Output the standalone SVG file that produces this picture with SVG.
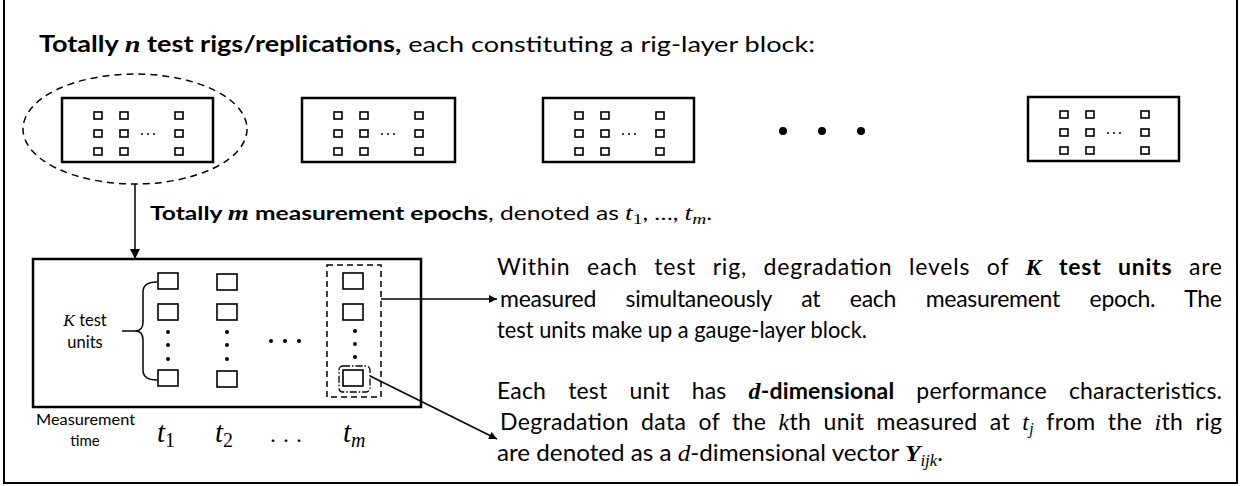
<svg xmlns="http://www.w3.org/2000/svg" width="1243" height="486" viewBox="0 0 1243 486">
<style>
  .frame{fill:none;stroke:#000;stroke-width:2}
  .rig{fill:#fff;stroke:#000;stroke-width:2.5}
  .sq{fill:#fff;stroke:#000;stroke-width:1.6}
  .gsq{fill:#fff;stroke:#000;stroke-width:1.6}
  .dash{fill:none;stroke:#000;stroke-width:1.5;stroke-dasharray:7 5}
  .dashr{fill:none;stroke:#000;stroke-width:1.5;stroke-dasharray:6 4}
  .dashdot{fill:none;stroke:#000;stroke-width:1.3;stroke-dasharray:7 2 1.5 2}
  .line{fill:none;stroke:#000;stroke-width:1.5}
  .txt{font-family:Lato,"Liberation Sans",sans-serif;fill:#000}
  .b{font-weight:bold}
  .mi{font-family:"Liberation Serif",serif;font-style:italic}
  .mbi{font-family:"Liberation Serif",serif;font-style:italic;font-weight:bold}
  .mr{font-family:"Liberation Serif",serif}
  .dot{fill:#000}
  .body{font-size:23px}
</style>
<defs>
  <marker id="ah" viewBox="0 0 10 10" refX="10" refY="5" markerWidth="10" markerHeight="10" markerUnits="userSpaceOnUse" orient="auto">
    <path d="M0,0 L10,5 L0,10 Z" fill="#000"/>
  </marker>
  <marker id="ahs" viewBox="0 0 10 10" refX="10" refY="5" markerWidth="8" markerHeight="8" markerUnits="userSpaceOnUse" orient="auto">
    <path d="M0,0 L10,5 L0,10 Z" fill="#000"/>
  </marker>
  <g id="smallgrid">
    <rect class="sq" x="32" y="14" width="8" height="7"/>
    <rect class="sq" x="58" y="14" width="8" height="7"/>
    <rect class="sq" x="113" y="14" width="8" height="7"/>
    <rect class="sq" x="32" y="32" width="8" height="7"/>
    <rect class="sq" x="58" y="32" width="8" height="7"/>
    <rect class="sq" x="113" y="32" width="8" height="7"/>
    <rect class="sq" x="32" y="50" width="8" height="7"/>
    <rect class="sq" x="58" y="50" width="8" height="7"/>
    <rect class="sq" x="113" y="50" width="8" height="7"/>
    <circle class="dot" cx="80" cy="36" r="1"/>
    <circle class="dot" cx="86" cy="36" r="1"/>
    <circle class="dot" cx="92" cy="36" r="1"/>
  </g>
</defs>

<rect class="frame" x="4" y="-3" width="1233" height="486"/>

<g id="title">
  <text class="txt" x="39" y="52" font-size="22" textLength="776" lengthAdjust="spacingAndGlyphs"><tspan class="b">Totally </tspan><tspan class="mbi" font-size="23">n</tspan><tspan class="b"> test rigs/replications,</tspan> each constituting a rig-layer block:</text>
</g>

<g id="rig1">
  <ellipse class="dash" cx="135" cy="129" rx="112" ry="55"/>
  <rect class="rig" x="62" y="98" width="151" height="64"/>
  <use href="#smallgrid" x="62" y="98"/>
</g>
<g id="rig2">
  <rect class="rig" x="302" y="98" width="153" height="64"/>
  <use href="#smallgrid" x="302" y="98"/>
</g>
<g id="rig3">
  <rect class="rig" x="543" y="98" width="151" height="64"/>
  <use href="#smallgrid" x="543" y="98"/>
</g>
<g id="rigdots">
  <circle class="dot" cx="783" cy="131" r="4"/>
  <circle class="dot" cx="822" cy="131" r="4"/>
  <circle class="dot" cx="861" cy="131" r="4"/>
</g>
<g id="rign">
  <rect class="rig" x="1028" y="97" width="151" height="64"/>
  <use href="#smallgrid" x="1028" y="97"/>
</g>

<g id="epochs-label">
  <text class="txt" x="150" y="220" font-size="19" textLength="562" lengthAdjust="spacingAndGlyphs"><tspan class="b">Totally </tspan><tspan class="mbi" font-size="21">m</tspan><tspan class="b"> measurement epochs</tspan>, denoted as <tspan class="mi" font-size="21">t</tspan><tspan class="mr" font-size="15" dy="4">1</tspan><tspan dy="-4">, …, </tspan><tspan class="mi" font-size="21">t</tspan><tspan class="mi" font-size="15" dy="4">m</tspan><tspan dy="-4">.</tspan></text>
</g>

<g id="gauge-block">
  <rect class="rig" x="33" y="259" width="388" height="148"/>
  <rect class="gsq" x="158" y="273" width="20" height="16"/>
  <rect class="gsq" x="158" y="304" width="20" height="16"/>
  <circle class="dot" cx="168" cy="332" r="2"/>
  <circle class="dot" cx="168" cy="345" r="2"/>
  <circle class="dot" cx="168" cy="359" r="2"/>
  <rect class="gsq" x="158" y="370" width="20" height="16"/>
  <rect class="gsq" x="217" y="274" width="20" height="16"/>
  <rect class="gsq" x="217" y="304" width="20" height="16"/>
  <circle class="dot" cx="227" cy="332" r="2"/>
  <circle class="dot" cx="227" cy="345" r="2"/>
  <circle class="dot" cx="227" cy="359" r="2"/>
  <rect class="gsq" x="217" y="371" width="20" height="16"/>
  <circle class="dot" cx="271" cy="341" r="2"/>
  <circle class="dot" cx="285" cy="341" r="2"/>
  <circle class="dot" cx="299" cy="341" r="2"/>
  <rect class="dashr" x="327" y="265" width="54" height="132"/>
  <rect class="gsq" x="343" y="273" width="20" height="16"/>
  <rect class="gsq" x="343" y="304" width="20" height="16"/>
  <circle class="dot" cx="355" cy="331" r="2"/>
  <circle class="dot" cx="355" cy="344" r="2"/>
  <circle class="dot" cx="355" cy="357" r="2"/>
  <rect class="gsq" x="343" y="370" width="20" height="16"/>
  <rect class="dashdot" x="339" y="366" width="31" height="26" rx="4"/>
  <path class="line" d="M157,282 Q143,282 143,292 L143,322 Q143,331 135,331 L122,331 M135,331 Q143,331 143,340 L143,370 Q143,380 157,380"/>
  <text class="txt" x="85" y="326" font-size="16.5" text-anchor="middle"><tspan class="mi" font-size="17.5">K</tspan> test</text>
  <text class="txt" x="85" y="348" font-size="16.5" text-anchor="middle">units</text>
</g>

<g id="time-axis">
  <text class="txt" x="36" y="425" font-size="15" textLength="99" lengthAdjust="spacingAndGlyphs">Measurement</text>
  <text class="txt" x="85" y="446" font-size="15" text-anchor="middle">time</text>
  <text class="mi" x="157" y="442" font-size="29">t<tspan class="mr" font-style="normal" font-size="20" dy="5">1</tspan></text>
  <text class="mi" x="215" y="442" font-size="29">t<tspan class="mr" font-style="normal" font-size="20" dy="5">2</tspan></text>
  <text class="mr" x="270" y="442" font-size="24" textLength="32" lengthAdjust="spacing">. . .</text>
  <text class="mi" x="343" y="442" font-size="29">t<tspan font-size="20" dy="5">m</tspan></text>
</g>

<g id="desc-gauge">
  <text class="txt body" x="497" y="275" word-spacing="10" textLength="725" lengthAdjust="spacing">Within each test rig, degradation levels of <tspan class="mbi" font-size="24">K</tspan> <tspan class="b">test units</tspan> are</text>
  <text class="txt body" x="500" y="307" word-spacing="24" textLength="722" lengthAdjust="spacing">measured simultaneously at each measurement epoch. The</text>
  <text class="txt body" x="497" y="338" textLength="370" lengthAdjust="spacingAndGlyphs">test units make up a gauge-layer block.</text>
</g>

<g id="desc-unit">
  <text class="txt body" x="497" y="399" word-spacing="16" textLength="725" lengthAdjust="spacing">Each test unit has <tspan class="mbi" font-size="24">d</tspan><tspan class="b">-dimensional</tspan> performance characteristics.</text>
  <text class="txt body" x="500" y="430" word-spacing="6" textLength="722" lengthAdjust="spacing">Degradation data of the <tspan class="mi" font-size="24">k</tspan>th unit measured at <tspan class="mi" font-size="24">t</tspan><tspan class="mi" font-size="16" dy="4">j</tspan><tspan dy="-4"> from the </tspan><tspan class="mi" font-size="24">i</tspan>th rig</text>
  <text class="txt body" x="497" y="461" textLength="446" lengthAdjust="spacingAndGlyphs">are denoted as a <tspan class="mi" font-size="24">d</tspan>-dimensional vector <tspan class="mbi" font-size="24">Y</tspan><tspan class="mi" font-size="16" dy="5">ijk</tspan><tspan dy="-5">.</tspan></text>
</g>

<g id="connectors">
  <line class="line" x1="135" y1="184" x2="135" y2="259" marker-end="url(#ah)"/>
  <line class="line" x1="381" y1="299" x2="497" y2="299" marker-end="url(#ahs)"/>
  <line class="line" x1="370" y1="376" x2="497" y2="439" marker-end="url(#ahs)"/>
</g>
</svg>
